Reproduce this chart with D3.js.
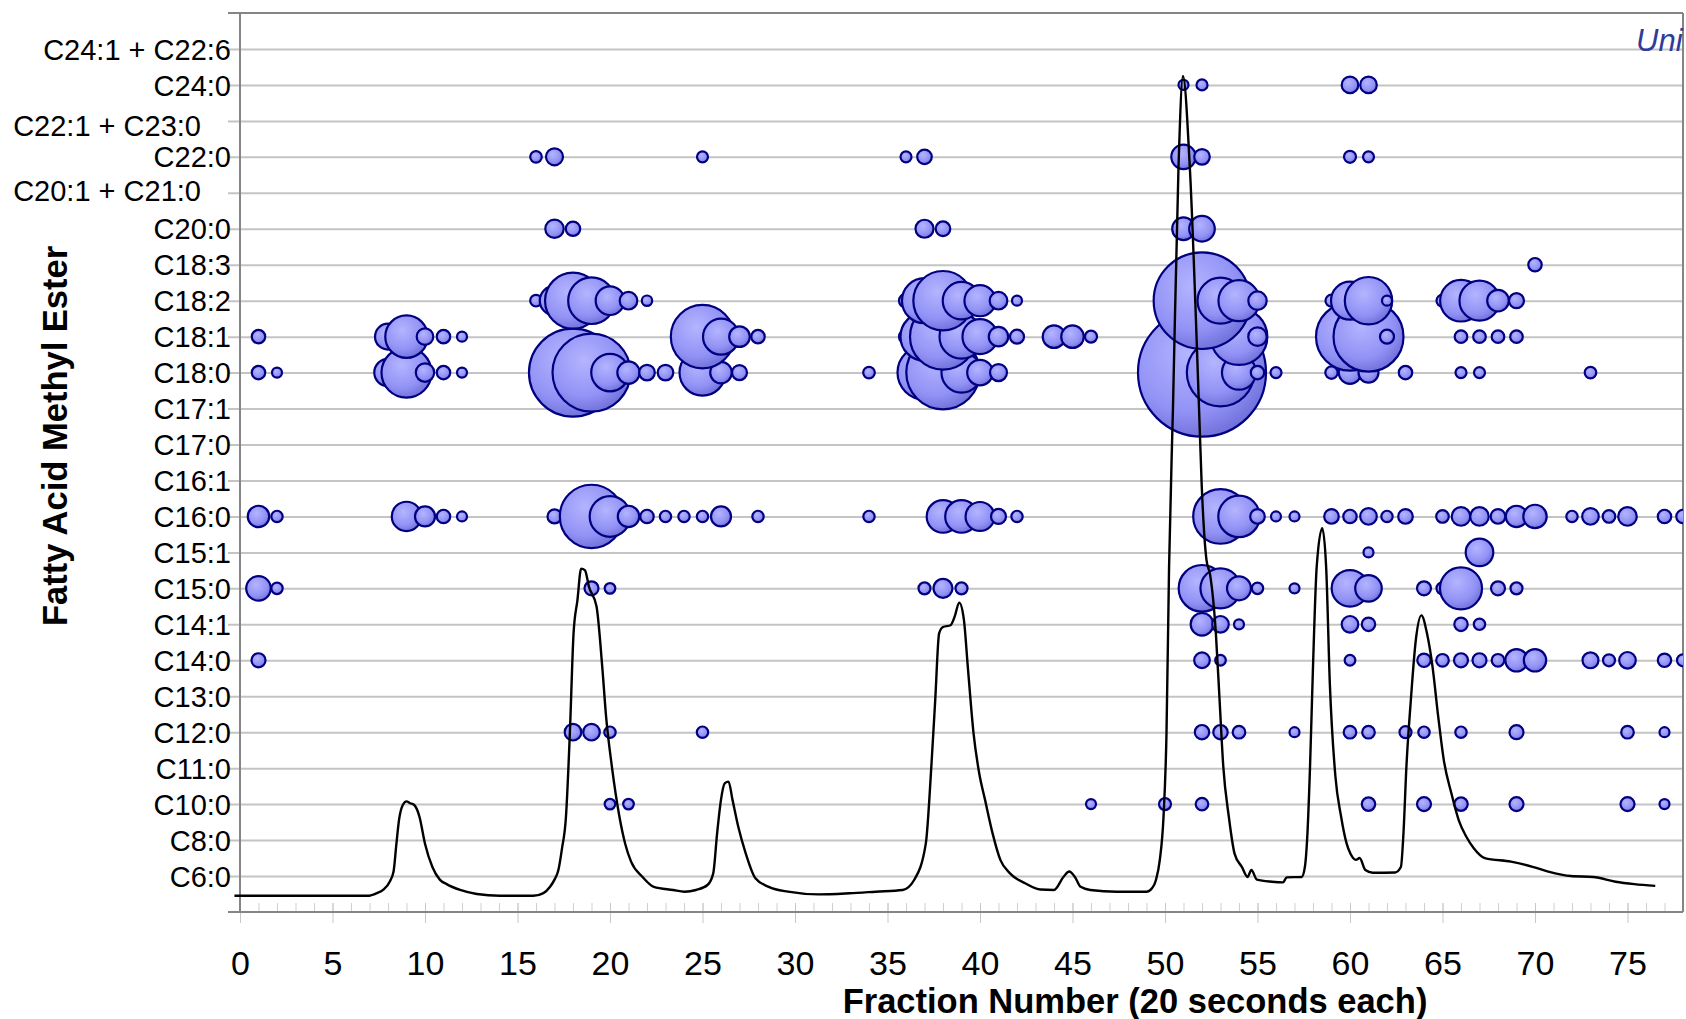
<!DOCTYPE html>
<html>
<head>
<meta charset="utf-8">
<title>FAME by fraction</title>
<script src="https://d3js.org/d3.v7.min.js"></script>
<style>
  body { margin: 0; background: #fff; }
  text { font-family: "Liberation Sans", Arial, sans-serif; }
</style>
</head>
<body>
<svg id="chart" width="1686" height="1019"></svg>
<script>
// Row labels, bottom to top
var categories = ["C6:0", "C8:0", "C10:0", "C11:0", "C12:0", "C13:0", "C14:0", "C14:1",
  "C15:0", "C15:1", "C16:0", "C16:1", "C17:0", "C17:1", "C18:0", "C18:1", "C18:2",
  "C18:3", "C20:0", "C20:1 + C21:0", "C22:0", "C22:1 + C23:0", "C24:0", "C24:1 + C22:6"];

var xTicks = [0, 5, 10, 15, 20, 25, 30, 35, 40, 45, 50, 55, 60, 65, 70, 75];

// Bubbles per ester: [fraction, relative amount]
var c24_0 = [[51,0.61],[52,0.74],[60,1.68],[61,1.68]];
var c22_0 = [[16,0.82],[17,1.76],[25,0.74],[36,0.74],[37,1.3],[51,3.63],[52,1.49],[60,0.88],[61,0.74]];
var c20_0 = [[17,2.07],[18,1.27],[37,1.98],[38,1.3],[51,3.12],[52,4.0]];
var c18_3 = [[70,1.1]];
var c18_2 = [[16,0.82],[17,5.28],[18,19.1],[19,13.3],[20,5.0],[21,1.89],[22,0.66],[36,1.2],[37,12.4],
  [38,21.5],[39,8.6],[40,5.9],[41,1.89],[42,0.61],[52,57],[53,12.9],[54,10.3],[55,2.07],[59,0.88],
  [60,8.8],[61,13.7],[62,0.61],[65,0.88],[66,10.6],[67,9.8],[68,2.85],[69,1.37]];
var c18_1 = [[1,1.1],[8,4.1],[9,11.0],[10,1.68],[11,1.1],[12,0.61],[25,24.5],[26,7.9],[27,2.59],[28,1.1],
  [36,1.2],[37,14.1],[38,26.6],[39,11.8],[40,7.5],[41,2.3],[42,1.2],[44,3.1],[45,3.1],[46,0.88],
  [54,19.6],[55,2.1],[60,28.2],[61,29.9],[62,1.2],[66,0.97],[67,0.97],[68,0.97],[69,0.97]];
var c18_0 = [[1,1.1],[2,0.61],[8,4.6],[9,15.3],[10,2.07],[11,1.1],[12,0.61],[18,47.3],[19,37.1],[20,8.6],
  [21,3.06],[22,1.49],[23,1.49],[25,12.9],[26,2.85],[27,1.37],[34,0.82],[36,1.2],[37,17.8],[38,32.9],
  [39,9.8],[40,4.0],[41,1.76],[52,100],[53,27.7],[54,7.1],[55,1.1],[56,0.74],[59,0.94],[60,3.12],
  [61,2.44],[63,1.1],[66,0.74],[67,0.74],[73,0.82]];
var c16_0 = [[1,2.8],[2,0.79],[9,5.28],[10,2.44],[11,1.1],[12,0.61],[17,1.2],[19,24.5],[20,10.1],[21,2.8],
  [22,1.1],[23,0.79],[24,0.79],[25,0.79],[26,2.44],[28,0.79],[34,0.79],[38,6.5],[39,6.5],[40,5.1],
  [41,1.37],[42,0.79],[53,18.2],[54,10.5],[55,1.3],[56,0.61],[57,0.61],[59,1.3],[60,1.1],[61,1.68],
  [62,0.79],[63,1.3],[65,0.97],[66,2.11],[67,2.11],[68,1.3],[69,2.8],[70,3.34],[72,0.79],[73,1.68],
  [74,0.97],[75,2.11],[77,1.1],[78,1.1]];
var c15_1 = [[61,0.61],[67,4.65]];
var c15_0 = [[1,3.69],[2,0.79],[19,1.2],[20,0.69],[37,0.88],[38,2.2],[39,0.88],[52,13.3],[53,9.8],[54,3.5],
  [55,0.79],[57,0.61],[60,8.2],[61,4.3],[64,1.2],[65,0.88],[66,10.8],[68,1.2],[69,0.88]];
var c14_1 = [[52,3.12],[53,1.68],[54,0.61],[60,1.68],[61,1.1],[66,1.1],[67,0.79]];
var c14_0 = [[1,1.2],[52,1.49],[53,0.69],[60,0.69],[64,1.1],[65,0.97],[66,1.2],[67,1.2],[68,0.97],[69,3.06],
  [70,3.06],[73,1.56],[74,0.88],[75,1.68],[77,1.1],[78,0.88]];
var c12_0 = [[18,1.68],[19,1.68],[20,0.79],[25,0.79],[52,1.27],[53,1.27],[54,0.97],[57,0.61],[60,0.97],
  [61,0.97],[63,0.88],[64,0.79],[66,0.79],[69,1.2],[75,0.97],[77,0.61]];
var c10_0 = [[20,0.69],[21,0.69],[46,0.61],[50,0.88],[52,0.97],[61,1.1],[64,1.2],[66,1.1],[69,1.2],[75,1.2],[77,0.61]];

// which array belongs to which row
var rowSeries = [["C10:0", c10_0], ["C12:0", c12_0], ["C14:0", c14_0], ["C14:1", c14_1], ["C15:0", c15_0],
  ["C15:1", c15_1], ["C16:0", c16_0], ["C18:0", c18_0], ["C18:1", c18_1], ["C18:2", c18_2],
  ["C18:3", c18_3], ["C20:0", c20_0], ["C22:0", c22_0], ["C24:0", c24_0]];

// Chromatogram trace: fraction, detector signal
var traceFraction = [-0.3, 6.9, 7.4, 7.75, 8.1, 8.3, 8.45, 8.6, 8.8, 9.0, 9.2, 9.42, 9.7, 10.0, 10.4, 10.8,
  11.17, 11.9, 12.8, 14.05, 15.85, 16.4, 16.76, 17.0, 17.21, 17.4, 17.62, 17.83, 18.03, 18.24, 18.44,
  18.65, 18.86, 19.27, 19.58, 19.79, 20.1, 20.51, 20.82, 21.14, 21.76, 22.37, 23.41, 24.03, 24.65,
  25.27, 25.58, 25.79, 26.0, 26.2, 26.41, 26.62, 26.93, 27.34, 27.86, 28.58, 29.62, 31.27, 32.93,
  34.37, 35.82, 36.44, 37.07, 37.37, 37.58, 37.79, 38.0, 38.41, 38.62, 38.88, 39.13, 39.34, 39.65,
  39.96, 40.27, 40.68, 41.1, 41.62, 42.44, 43.27, 44.0, 44.51, 44.82, 45.13, 45.44, 45.96, 47.4,
  49.0, 49.21, 49.51, 49.72, 49.92, 50.08, 50.22, 50.43, 50.73, 50.97, 51.34, 51.84, 51.98, 52.24,
  52.44, 52.75, 52.95, 53.15, 53.45, 53.76, 54.16, 54.46, 54.67, 54.97, 55.78, 56.38, 56.58, 57.39,
  57.56, 57.7, 57.84, 58.0, 58.2, 58.5, 58.71, 58.91, 59.21, 59.52, 59.82, 60.02, 60.32, 60.52,
  60.83, 61.23, 62.44, 62.75, 62.89, 63.05, 63.29, 63.56, 63.86, 64.16, 64.46, 64.77, 65.07, 65.48,
  65.88, 66.28, 66.69, 67.29, 68.7, 69.92, 70.72, 71.94, 73.15, 74.36, 75.37, 76.5];
var traceSignal = [1.8, 1.8, 2.1, 2.5, 3.4, 4.5, 7.5, 10.3, 11.9, 12.3, 12.1, 11.9, 10.6, 7.6, 5.0, 3.6,
  3.1, 2.45, 2.0, 1.8, 1.8, 2.1, 2.8, 3.6, 4.67, 7.0, 10.6, 19.9, 31.0, 34.7, 38.2,
  38.0, 36.2, 34.0, 27.3, 21.7, 16.2, 10.6, 7.6, 5.6, 3.9, 2.8, 2.45, 2.26, 2.45,
  3.0, 4.3, 8.75, 12.5, 14.3, 14.5, 12.5, 9.5, 6.5, 3.75, 2.8, 2.26, 1.96, 2.08,
  2.26, 2.45, 3.56, 7.6, 16.2, 23.6, 31.0, 31.7, 31.9, 32.8, 34.4, 32.5, 27.3, 19.9,
  15.4, 12.5, 8.75, 5.8, 4.3, 3.2, 2.5, 2.45, 3.9, 4.5, 3.9, 2.8, 2.45, 2.26,
  2.26, 2.45, 3.56, 5.8, 10.6, 19.8, 38.4, 56.0, 82.9, 93.0, 82.9, 56.0, 47.7, 39.2,
  37.5, 31.0, 23.6, 16.2, 10.6, 6.5, 5.0, 3.9, 4.67, 3.6, 3.37, 3.3, 3.85, 3.9,
  5.0, 8.75, 16.2, 27.3, 38.4, 42.7, 38.4, 25.4, 15.1, 10.6, 7.6, 6.5, 5.8, 6.0,
  4.67, 4.37, 4.4, 5.0, 8.75, 16.2, 23.6, 30.3, 33.0, 31.0, 27.3, 21.7, 16.9, 13.2,
  10.2, 8.4, 7.1, 6.0, 5.6, 5.0, 4.5, 4.0, 3.9, 3.37, 3.1, 2.9];

var svg = d3.select("#chart");
// plot box (note: "top" is taken by window.top, so use plot* names)
var plotL = 240, plotR = 1683, plotT = 13, plotB = 912;

var x = d3.scaleLinear().domain([0, 78]).range([plotL, plotR]);
var yRow = d3.scaleLinear().domain([-1, 24]).range([plotB, plotT]);
var ySig = d3.scaleLinear().domain([0, 100]).range([plotB, plotT]);
var rSize = d3.scaleSqrt().domain([0, 100]).range([0, 64]);

// bubble shading
var defs = svg.append("defs");
var grad = defs.append("radialGradient")
  .attr("id", "bub").attr("cx", "0.4").attr("cy", "0.35").attr("r", "0.7");
grad.append("stop").attr("offset", "0%").attr("stop-color", "#b4b4ff");
grad.append("stop").attr("offset", "65%").attr("stop-color", "#9292f6");
grad.append("stop").attr("offset", "100%").attr("stop-color", "#6c6cd6");
defs.append("clipPath").attr("id", "plotclip")
  .append("rect").attr("x", plotL).attr("y", plotT).attr("width", plotR - plotL).attr("height", plotB - plotT);

// gridlines with small outside ticks
var yAxis = d3.axisLeft(yRow)
  .tickValues(d3.range(categories.length))
  .tickSize(-(plotR - 228))
  .tickPadding(-3)
  .tickFormat(function(i) { return categories[i]; });
var gy = svg.append("g").attr("transform", "translate(228,0)").call(yAxis);
gy.select(".domain").remove();
gy.selectAll(".tick line").attr("stroke", "#c4c4c4").attr("stroke-width", 2);
gy.selectAll(".tick text")
  .attr("font-size", 29).attr("fill", "#000")
  .attr("font-family", "'Liberation Sans', Arial, sans-serif")
  .attr("dy", "0.35em");
// two combined labels sit further left
gy.selectAll(".tick text").filter(function(i) { return i == 19 || i == 21; })
  .attr("x", -27)
  .attr("dy", function(i) { return i == 21 ? "0.5em" : "0.25em"; });

// x axis: minor and major ticks
var gxMinor = svg.append("g").attr("transform", "translate(0,903)")
  .call(d3.axisBottom(x).tickValues(d3.range(0, 79)).tickSize(9).tickFormat(""));
gxMinor.select(".domain").remove();
gxMinor.selectAll("line").attr("stroke", "#cfcfcf").attr("stroke-width", 1);

var gx = svg.append("g").attr("transform", "translate(0,903)")
  .call(d3.axisBottom(x).tickValues(xTicks).tickSize(20).tickPadding(28));
gx.select(".domain").remove();
gx.selectAll("line").attr("stroke", "#c8c8c8").attr("stroke-width", 1);
gx.selectAll("text").attr("font-size", 34).attr("fill", "#000")
  .attr("font-family", "'Liberation Sans', Arial, sans-serif");

// frame
var frame = svg.append("g").attr("stroke", "#858585").attr("stroke-width", 2);
frame.append("line").attr("x1", 228).attr("x2", plotR).attr("y1", plotT).attr("y2", plotT);
frame.append("line").attr("x1", plotR).attr("x2", plotR).attr("y1", plotT).attr("y2", plotB);
frame.append("line").attr("x1", plotL).attr("x2", plotL).attr("y1", plotT).attr("y2", plotB);
frame.append("line").attr("x1", 228).attr("x2", plotR).attr("y1", plotB).attr("y2", plotB);

// bubbles, lower rows first, later fractions on top
var bubbles = [];
categories.forEach(function(cat, i) {
  rowSeries.forEach(function(s) {
    if (s[0] == cat) {
      s[1].forEach(function(d) { bubbles.push({f: d[0], v: d[1], row: i}); });
    }
  });
});

svg.append("g").attr("clip-path", "url(#plotclip)")
  .selectAll("circle").data(bubbles).enter()
  .append("circle")
  .attr("cx", function(d) { return x(d.f); })
  .attr("cy", function(d) { return yRow(d.row); })
  .attr("r", function(d) { return rSize(d.v); })
  .attr("fill", "url(#bub)")
  .attr("stroke", "#000080")
  .attr("stroke-width", 2.2);

// chromatogram
var trace = traceFraction.map(function(f, i) { return [f, traceSignal[i]]; });
svg.append("path")
  .datum(trace)
  .attr("fill", "none")
  .attr("stroke", "#000")
  .attr("stroke-width", 2.4)
  .attr("stroke-linejoin", "round")
  .attr("d", d3.line()
    .x(function(d) { return x(d[0]); })
    .y(function(d) { return ySig(d[1]); })
    .curve(d3.curveMonotoneX));

// axis titles
svg.append("text")
  .attr("x", 1135).attr("y", 1013)
  .attr("text-anchor", "middle")
  .attr("font-size", 34.5).attr("font-weight", "bold")
  .text("Fraction Number (20 seconds each)");

svg.append("text")
  .attr("transform", "translate(67,436) rotate(-90)")
  .attr("text-anchor", "middle")
  .attr("font-size", 34.5).attr("font-weight", "bold")
  .text("Fatty Acid Methyl Ester");

// scribble in the top corner of the scan
svg.append("text")
  .attr("x", 1636).attr("y", 51)
  .attr("font-family", "'DejaVu Serif', serif")
  .attr("font-style", "italic")
  .attr("font-size", 31)
  .attr("fill", "#2e3b9c")
  .text("Uni");
</script>
</body>
</html>
